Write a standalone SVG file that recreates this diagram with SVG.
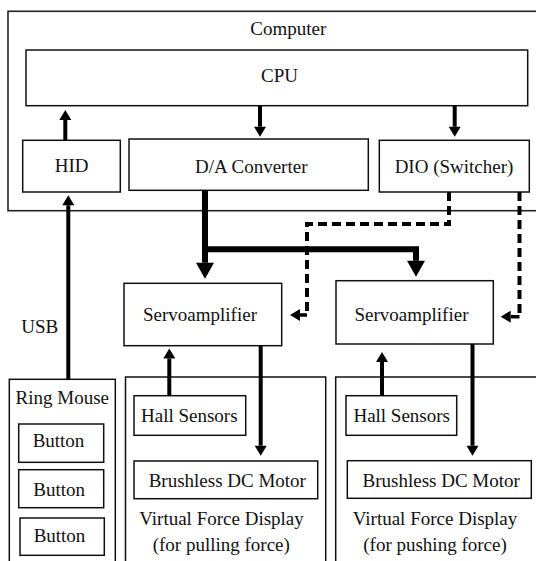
<svg xmlns="http://www.w3.org/2000/svg" width="536" height="561" viewBox="0 0 536 561">
<style>
  .box { fill: #fff; stroke: #111; stroke-width: 1.5; }
  .frame { fill: none; stroke: #222; stroke-width: 1.6; }
  .t { font-family: "Liberation Serif", "Times New Roman", serif; font-size: 19px; fill: #111; text-anchor: middle; }
  .arr { fill: none; stroke: #000; stroke-width: 4; marker-end: url(#head); }
  .thick { fill: none; stroke: #000; stroke-width: 6; stroke-linejoin: miter; marker-end: url(#bighead); }
  .dash { fill: none; stroke: #000; stroke-width: 4; stroke-dasharray: 9 5; }
  .stub { fill: none; stroke: #000; stroke-width: 3.5; marker-end: url(#head); }
</style>
<defs>
  <marker id="head" markerUnits="userSpaceOnUse" markerWidth="10" markerHeight="12" refX="0" refY="6" orient="auto" overflow="visible">
    <path d="M0,0 L10,6 L0,12 z" fill="#000"/>
  </marker>
  <marker id="bighead" markerUnits="userSpaceOnUse" markerWidth="16" markerHeight="18" refX="0" refY="9" orient="auto" overflow="visible">
    <path d="M0,0 L16,9 L0,18 z" fill="#000"/>
  </marker>
</defs>
<rect width="536" height="561" fill="#fff"/>

<g id="computer">
  <rect class="frame" x="8" y="11.3" width="540" height="199.4"/>
  <text class="t" x="288.3" y="35.3">Computer</text>
</g>
<g id="cpu">
  <rect class="box" x="26" y="50" width="501.7" height="55.7"/>
  <text class="t" x="279.5" y="82.3">CPU</text>
</g>
<g id="hid">
  <rect class="box" x="22.7" y="140.3" width="97.6" height="51.7"/>
  <text class="t" x="71.7" y="172.3">HID</text>
</g>
<g id="da">
  <rect class="box" x="129" y="139" width="239.3" height="51.3"/>
  <text class="t" x="251.3" y="172.6">D/A Converter</text>
</g>
<g id="dio">
  <rect class="box" x="379.3" y="140.3" width="150" height="51.7"/>
  <text class="t" x="454" y="172.6">DIO (Switcher)</text>
</g>
<g id="servo1">
  <rect class="box" x="124" y="283.3" width="157.7" height="62.4"/>
  <text class="t" x="200" y="321.3">Servoamplifier</text>
</g>
<g id="servo2">
  <rect class="box" x="336" y="280.7" width="157.3" height="63.3"/>
  <text class="t" x="411.5" y="320.7">Servoamplifier</text>
</g>
<g id="usb-label">
  <text class="t" x="39.7" y="333.3">USB</text>
</g>
<g id="ringmouse">
  <rect class="box" x="9.3" y="379.3" width="106" height="200"/>
  <text class="t" x="62.3" y="404">Ring Mouse</text>
</g>
<g id="button1">
  <rect class="box" x="18.7" y="424" width="85" height="38.3"/>
  <text class="t" x="58.5" y="446.7">Button</text>
</g>
<g id="button2">
  <rect class="box" x="18.7" y="469.7" width="85" height="38"/>
  <text class="t" x="59.2" y="495.7">Button</text>
</g>
<g id="button3">
  <rect class="box" x="20" y="518" width="84.3" height="37.3"/>
  <text class="t" x="59.5" y="541.7">Button</text>
</g>
<g id="display1">
  <rect class="box" x="125.5" y="377" width="200.2" height="200"/>
  <text class="t" x="221.5" y="525">Virtual Force Display</text>
  <text class="t" x="221.3" y="550.7">(for pulling force)</text>
</g>
<g id="display2">
  <rect class="box" x="335.7" y="377" width="220" height="200"/>
  <text class="t" x="435" y="525">Virtual Force Display</text>
  <text class="t" x="435" y="550.7">(for pushing force)</text>
</g>
<g id="hall1">
  <rect class="box" x="134" y="395.7" width="111.7" height="39.6"/>
  <text class="t" x="189.3" y="422.3">Hall Sensors</text>
</g>
<g id="hall2">
  <rect class="box" x="346" y="395.7" width="110.7" height="39.6"/>
  <text class="t" x="401.7" y="422.3">Hall Sensors</text>
</g>
<g id="motor1">
  <rect class="box" x="134" y="461" width="183.7" height="37.7"/>
  <text class="t" x="227.3" y="486.7">Brushless DC Motor</text>
</g>
<g id="motor2">
  <rect class="box" x="347.3" y="460.7" width="184" height="37.6"/>
  <text class="t" x="441.2" y="486.7">Brushless DC Motor</text>
</g>

<g id="connectors">
  <path class="arr" d="M260,106 V126.7"/>
  <path class="arr" d="M454.7,106 V126.7"/>
  <path class="arr" d="M65.3,140.3 V120"/>
  <path class="arr" d="M68.3,379.3 V205.3"/>
  <path class="thick" d="M205,190.3 V262.7"/>
  <path class="thick" d="M205,249.3 H416 V260.7"/>
  <path class="dash" d="M449,192 V224 H307 V315"/>
  <path class="stub" d="M307,315 H300"/>
  <path class="dash" d="M519.5,192 V316.7"/>
  <path class="stub" d="M519.5,316.7 H510.7"/>
  <path class="arr" d="M169.3,395.7 V358.5"/>
  <path class="arr" d="M382,395.7 V362"/>
  <path class="arr" d="M260.7,345.7 V445.7"/>
  <path class="arr" d="M472.5,344 V445.7"/>
</g>
</svg>
